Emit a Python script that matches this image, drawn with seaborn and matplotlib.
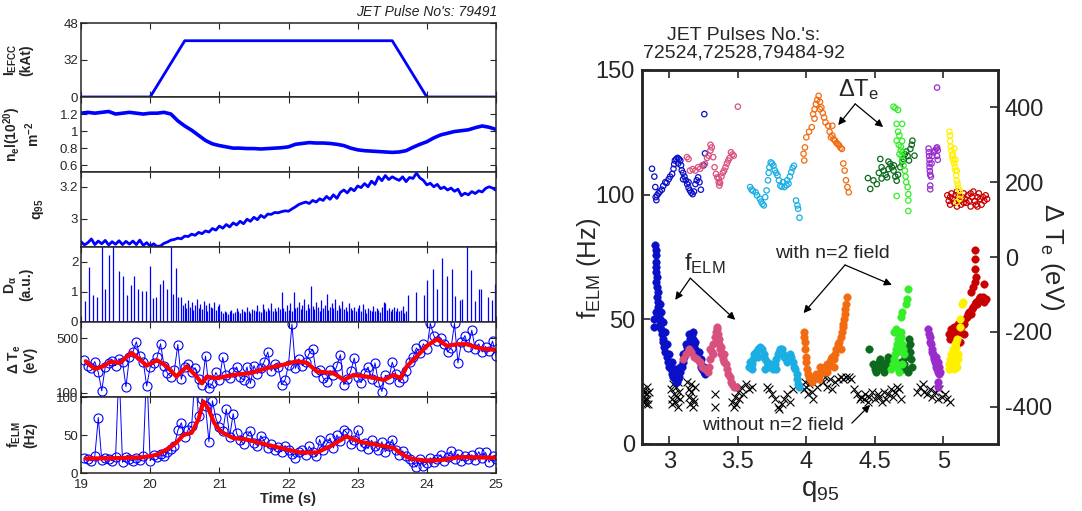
import matplotlib
matplotlib.use("Agg")
import matplotlib.pyplot as plt
import numpy as np
import seaborn as sns

W, H = 1082, 511

# ---------------- left column: JET pulse 79491 time traces ----------------
EFCC_T = [19.0, 20.0, 20.5, 23.5, 24.0, 25.0]
EFCC_KAT = [0.0, 0.0, 36.5, 36.5, 0.0, 0.0]

# line-integrated density, 0.1 s samples 19..25
NE = [1.21, 1.22, 1.21, 1.22, 1.23, 1.20, 1.21, 1.22, 1.21, 1.20,
      1.21, 1.21, 1.22, 1.20, 1.12, 1.06, 1.01, 0.95, 0.89, 0.85,
      0.83, 0.815, 0.80, 0.80, 0.795, 0.795, 0.79, 0.795, 0.80, 0.805,
      0.815, 0.845, 0.855, 0.865, 0.86, 0.86, 0.855, 0.845, 0.83, 0.80,
      0.78, 0.77, 0.765, 0.76, 0.755, 0.75, 0.755, 0.77, 0.81, 0.845,
      0.875, 0.92, 0.955, 0.975, 0.995, 1.005, 1.015, 1.04, 1.06, 1.045, 1.02]

# q95, 0.05 s samples 19..25
Q95 = [2.858, 2.838, 2.852, 2.875, 2.840, 2.862, 2.845, 2.866, 2.838, 2.858,
       2.842, 2.864, 2.840, 2.860, 2.843, 2.862, 2.840, 2.868, 2.835, 2.852,
       2.830, 2.845, 2.828, 2.832, 2.848, 2.856, 2.868, 2.872, 2.880, 2.876,
       2.893, 2.890, 2.905, 2.898, 2.916, 2.908, 2.925, 2.918, 2.940, 2.930,
       2.955, 2.942, 2.965, 2.950, 2.975, 2.962, 2.985, 2.970, 2.998, 2.985,
       3.010, 2.995, 3.022, 3.008, 3.030, 3.028, 3.040, 3.038, 3.045, 3.050,
       3.048, 3.062, 3.075, 3.090, 3.098, 3.105, 3.096, 3.115, 3.105, 3.125,
       3.115, 3.140, 3.122, 3.150, 3.128, 3.165, 3.180, 3.162, 3.190, 3.175,
       3.205, 3.195, 3.220, 3.200, 3.235, 3.215, 3.262, 3.238, 3.270, 3.245,
       3.262, 3.250, 3.240, 3.262, 3.232, 3.258, 3.252, 3.285, 3.255, 3.240,
       3.212, 3.222, 3.200, 3.215, 3.188, 3.198, 3.180, 3.192, 3.172, 3.185,
       3.145, 3.160, 3.150, 3.170, 3.158, 3.175, 3.168, 3.190, 3.200, 3.192, 3.178]

# D-alpha spikes (time, height)
DA_EARLY = [(19.063, 0.69), (19.111, 1.83), (19.178, 0.91), (19.227, 0.83), (19.304, 2.6),
            (19.352, 1.09), (19.405, 2.22), (19.458, 2.6), (19.55, 1.69), (19.613, 1.52),
            (19.666, 0.89), (19.719, 1.22), (19.772, 1.54), (19.83, 1.11), (19.888, 1.04),
            (19.941, 1.04), (20.003, 1.86), (20.042, 0.8), (20.09, 0.83), (20.138, 1.27),
            (20.19, 1.39), (20.24, 1.09), (20.298, 2.6), (20.327, 0.92), (20.37, 1.78),
            (20.4, 0.83), (20.447, 0.83)]
# dense small ELMs, 20.475 .. 23.70 s
DA_DENSE = [0.55, 0.62, 0.45, 0.72, 0.5, 0.65, 0.4, 0.58, 0.78, 0.48, 0.6, 0.42, 0.7, 0.55,
            0.35, 0.62, 0.5, 0.45, 0.68, 0.4, 0.52, 0.6,
            0.35, 0.3, 0.38, 0.32, 0.28, 0.35, 0.4, 0.3, 0.33, 0.45, 0.36, 0.3, 0.42, 0.38,
            0.32, 0.5, 0.35, 0.3, 0.44, 0.4, 0.36, 0.55, 0.38, 0.32, 0.6, 0.42, 0.35, 0.48,
            0.4, 0.62, 0.38, 0.45, 0.35, 0.5, 0.42, 1.0,
            0.45, 0.38, 0.55, 0.4, 0.62, 0.35, 0.98, 0.45, 0.5, 0.68, 0.42, 0.55, 0.75, 0.4,
            0.6, 0.48, 1.18, 0.52, 0.42, 0.65, 0.5, 0.38, 0.72, 0.45, 0.55, 0.92, 0.4, 0.5,
            0.62, 0.45, 0.78, 0.4, 0.55, 0.48, 0.7, 0.42, 0.5, 0.38, 0.62, 0.45,
            0.4, 0.5, 0.35, 0.45, 0.55, 0.38, 0.6, 0.42, 0.3, 0.48, 0.4, 0.35, 0.52, 0.38,
            0.45, 0.4, 0.32, 0.5, 0.65, 0.62, 0.4, 0.48, 0.36, 0.42, 0.5, 0.38, 0.45, 0.35,
            0.4, 0.52, 0.3, 0.38]
DA_LATE = [(23.723, 0.89), (23.848, 0.98), (23.954, 0.89), (24.007, 1.39), (24.085, 1.76),
           (24.147, 1.11), (24.22, 2.11), (24.292, 1.52), (24.364, 1.76), (24.413, 0.87),
           (24.475, 0.72), (24.514, 0.76), (24.577, 2.6), (24.634, 1.72), (24.702, 0.7),
           (24.76, 1.09), (24.789, 1.09), (24.88, 0.83), (24.938, 0.72), (24.986, 1.27)]

# pedestal Te drop, raw per-ELM values (0.05 s, 19.05..25)
DTE_RAW = [340, 300, 285, 330, 250, 115, 290, 320, 335, 300,
           350, 330, 145, 360, 400, 475, 370, 330, 150, 290,
           320, 360, 460, 300, 245, 220, 265, 455, 200, 290,
           310, 250, 285, 200, 160, 370, 135, 170, 250, 195,
           360, 230, 210, 250, 290, 215, 195, 290, 170, 300,
           240, 280, 330, 400, 260, 310, 290, 160, 195, 305,
           605, 280, 350, 300, 330, 390, 420, 250, 270, 210,
           180, 265, 230, 300, 380, 160, 200, 260, 355, 220,
           175, 245, 290, 200, 320, 180, 110, 230, 200, 325,
           240, 180, 210, 260, 330, 360, 430, 390, 460, 420,
           610, 520, 480, 500, 460, 400, 430, 610, 320, 470,
           520, 440, 560, 420, 460, 400, 440, 410, 480, 370]
DTE_SMOOTH = [(19.07, 332), (19.2, 275), (19.32, 295), (19.42, 327), (19.56, 320), (19.73, 395),
              (19.85, 345), (19.95, 300), (20.1, 340), (20.24, 295), (20.38, 220), (20.53, 295),
              (20.67, 220), (20.75, 170), (20.82, 220), (20.96, 207), (21.2, 232), (21.45, 245),
              (21.69, 282), (21.93, 307), (22.12, 332), (22.27, 320), (22.41, 257), (22.65, 245),
              (22.8, 195), (22.94, 232), (23.13, 220), (23.38, 195), (23.52, 232), (23.62, 207),
              (23.71, 295), (23.86, 370), (24.0, 445), (24.15, 495), (24.29, 445), (24.44, 457),
              (24.58, 457), (24.73, 432), (24.87, 420), (24.99, 415)]

# ELM frequency, raw (0.05 s, 19.05..25)
FELM_RAW = [20, 18, 16, 22, 73, 17, 20, 19, 16, 21,
            140, 14, 21, 18, 16, 20, 17, 22, 140, 16,
            24, 21, 25, 22, 28, 31, 36, 56, 66, 48,
            57, 62, 130, 75, 98, 88, 41, 95, 72, 60,
            55, 84, 48, 78, 52, 44, 38, 49, 55, 40,
            36, 49, 42, 33, 38, 30, 34, 28, 36, 30,
            25, 20, 27, 30, 24, 35, 28, 22, 44, 30,
            38, 46, 33, 50, 42, 57, 52, 38, 44, 56,
            35, 40, 32, 43, 36, 30, 41, 28, 35, 44,
            30, 24, 29, 22, 18, 14, 8, 18, 9, 13,
            20, 14, 19, 24, 16, 21, 29, 18, 25, 16,
            22, 19, 24, 17, 28, 20, 27, 14, 22, 19]
FELM_SMOOTH = [(19.07, 19), (19.5, 19.5), (19.9, 20.7), (20.1, 24), (20.24, 31), (20.38, 40),
               (20.48, 50), (20.6, 53), (20.7, 71), (20.77, 94), (20.84, 85), (20.92, 67),
               (21.01, 55), (21.2, 46), (21.4, 44), (21.69, 37), (21.98, 31), (22.17, 27),
               (22.41, 27), (22.6, 35), (22.84, 48), (23.04, 41), (23.28, 37), (23.52, 33),
               (23.62, 26), (23.76, 19), (24.0, 16), (24.2, 17), (24.48, 21), (25.0, 20)]

# ---------------- right panel: fELM and dTe vs q95 ----------------
# filled circles: f_ELM (Hz) with n=2 field, (q95, f)
F_BLUE = [(2.895, 80), (2.9, 78), (2.9, 76), (2.905, 73), (2.9, 71), (2.905, 69), (2.91, 67),
          (2.905, 65), (2.91, 63), (2.915, 61), (2.91, 59), (2.92, 57), (2.9, 53), (2.89, 50),
          (2.885, 47), (2.92, 55), (2.925, 52), (2.93, 50), (2.935, 48), (2.94, 46), (2.945, 44),
          (2.95, 42), (2.955, 41), (2.96, 39), (2.97, 37), (2.98, 35), (2.99, 33), (3.0, 31),
          (3.01, 30), (3.02, 28), (3.03, 27), (3.04, 26), (3.05, 25), (3.055, 25), (3.06, 26),
          (3.07, 27), (3.08, 29), (3.09, 31), (3.1, 33), (3.11, 35), (3.12, 37), (3.13, 39),
          (3.14, 40), (3.15, 42), (3.16, 43), (3.165, 44), (3.17, 42), (3.18, 40), (3.19, 38),
          (3.2, 36), (3.21, 35), (3.22, 33), (3.23, 31), (3.24, 30), (3.25, 29), (3.26, 28),
          (2.93, 56), (2.94, 53), (2.95, 49), (2.97, 45), (2.98, 40), (3.0, 36), (3.02, 33),
          (3.04, 30), (3.06, 29), (3.08, 31), (3.1, 36), (3.12, 40), (3.14, 44), (3.17, 45),
          (3.19, 41), (3.215, 37), (3.23, 34), (3.25, 31)]
F_PINK = [(3.10, 34), (3.12, 36), (3.14, 38), (3.16, 37), (3.18, 35), (3.2, 34), (3.22, 33),
          (3.24, 31), (3.26, 30), (3.28, 29), (3.29, 31), (3.3, 34), (3.31, 37), (3.32, 40),
          (3.33, 43), (3.34, 45), (3.345, 47), (3.35, 46), (3.355, 44), (3.36, 42), (3.365, 40),
          (3.37, 38), (3.38, 36), (3.39, 34), (3.4, 33), (3.41, 32), (3.42, 30), (3.43, 28),
          (3.44, 27), (3.45, 25), (3.46, 24), (3.475, 23), (3.49, 23), (3.3, 38), (3.32, 36),
          (3.35, 41), (3.38, 39), (3.4, 36)]
F_LBLUE = [(3.58, 31), (3.59, 33), (3.6, 32), (3.61, 34), (3.62, 36), (3.63, 37), (3.645, 38),
           (3.66, 39), (3.675, 38), (3.69, 36), (3.7, 34), (3.71, 33), (3.72, 32), (3.73, 31),
           (3.74, 32), (3.75, 31), (3.76, 30), (3.77, 32), (3.78, 34), (3.79, 36), (3.8, 37),
           (3.81, 38), (3.82, 38), (3.83, 36), (3.84, 35), (3.85, 34), (3.86, 33), (3.87, 34),
           (3.88, 36), (3.89, 35), (3.9, 33), (3.91, 31), (3.92, 30), (3.93, 28), (3.935, 26),
           (3.94, 24), (3.945, 23), (3.6, 30), (3.65, 35), (3.7, 30), (3.78, 30)]
F_ORANGE = [(3.985, 45), (3.985, 43), (3.99, 41), (3.99, 38), (3.995, 35), (4.0, 33), (4.005, 30),
            (4.01, 28), (4.02, 27), (4.03, 26), (4.04, 25), (4.05, 26), (4.06, 27), (4.07, 28),
            (4.08, 27), (4.09, 26), (4.1, 28), (4.11, 29), (4.12, 30), (4.13, 29), (4.14, 31),
            (4.15, 32), (4.16, 31), (4.17, 33), (4.18, 34), (4.19, 35), (4.2, 34), (4.21, 36),
            (4.22, 38), (4.23, 40), (4.24, 41), (4.25, 43), (4.26, 45), (4.265, 47), (4.27, 48),
            (4.275, 50), (4.28, 52), (4.285, 54), (4.29, 56), (4.3, 59), (4.1, 31), (4.15, 29),
            (4.2, 31), (4.25, 38)]
F_DGREEN = [(4.455, 38), (4.49, 32), (4.5, 30), (4.51, 29), (4.52, 31), (4.53, 33), (4.54, 34),
            (4.55, 32), (4.56, 30), (4.57, 29), (4.58, 31), (4.59, 33), (4.6, 35), (4.61, 34),
            (4.62, 32), (4.7, 30), (4.71, 32), (4.72, 35), (4.73, 37), (4.74, 39), (4.75, 42),
            (4.755, 40), (4.76, 37), (4.765, 34), (4.77, 31), (4.745, 29), (4.73, 30), (4.68, 31),
            (4.69, 33)]
F_GREEN = [(4.62, 30), (4.63, 32), (4.64, 34), (4.645, 36), (4.65, 33), (4.655, 38), (4.66, 40),
           (4.665, 37), (4.67, 42), (4.675, 39), (4.68, 44), (4.685, 41), (4.69, 43), (4.695, 45),
           (4.7, 40), (4.705, 38), (4.71, 36), (4.66, 31), (4.68, 29), (4.7, 32), (4.64, 45),
           (4.655, 46), (4.69, 51), (4.7, 53), (4.73, 56), (4.735, 58), (4.74, 62)]
F_PURPLE = [(4.89, 46), (4.895, 44), (4.9, 43), (4.905, 41), (4.91, 40), (4.915, 38), (4.92, 37),
            (4.925, 36), (4.93, 35), (4.935, 34), (4.94, 33), (4.945, 32), (4.95, 31), (4.955, 30),
            (4.96, 30), (4.965, 29), (4.97, 28), (4.97, 31), (4.975, 29), (4.96, 33), (4.95, 35),
            (4.965, 25), (4.96, 23)]
F_YELLOW = [(5.04, 32), (5.045, 30), (5.05, 34), (5.055, 36), (5.06, 31), (5.065, 33), (5.07, 35),
            (5.075, 38), (5.08, 37), (5.085, 40), (5.09, 41), (5.095, 39), (5.1, 42), (5.105, 36),
            (5.11, 34), (5.1, 31), (5.08, 30), (5.09, 33), (5.12, 47), (5.125, 50), (5.14, 56),
            (5.145, 57)]
F_RED = [(5.04, 44), (5.05, 42), (5.055, 46), (5.06, 45), (5.07, 43), (5.08, 47), (5.09, 44),
         (5.1, 46), (5.11, 48), (5.12, 45), (5.13, 47), (5.14, 49), (5.15, 48), (5.16, 50),
         (5.17, 51), (5.18, 52), (5.19, 53), (5.2, 52), (5.21, 54), (5.22, 55), (5.23, 56),
         (5.24, 57), (5.25, 56), (5.26, 58), (5.27, 59), (5.28, 58), (5.29, 59), (5.3, 57),
         (5.31, 58), (5.2, 61), (5.22, 63), (5.235, 65), (5.24, 67), (5.23, 70), (5.235, 74),
         (5.23, 78), (5.3, 64), (5.1, 40), (5.15, 44), (5.12, 41)]

# crosses: f_ELM without n=2 field
F_NOFIELD = [(2.805, 22), (2.81, 19), (2.815, 17), (2.82, 21), (2.82, 18), (2.83, 16), (2.83, 20),
             (2.835, 23), (2.84, 18), (2.845, 16), (2.85, 21), (2.805, 17),
             (3.01, 22), (3.02, 18), (3.02, 16), (3.03, 24), (3.035, 20), (3.04, 17), (3.05, 23),
             (3.055, 19), (3.06, 15), (3.065, 25), (3.07, 21), (3.075, 18),
             (3.13, 25), (3.14, 22), (3.145, 19), (3.15, 16), (3.155, 24), (3.16, 21), (3.17, 15),
             (3.175, 18), (3.18, 17), (3.19, 23), (3.335, 20), (3.335, 15),
             (3.46, 17), (3.47, 15), (3.48, 19), (3.49, 16), (3.5, 21), (3.51, 18), (3.52, 23),
             (3.54, 20), (3.56, 24), (3.58, 22), (3.6, 23),
             (3.71, 23), (3.73, 22), (3.75, 20), (3.77, 18), (3.79, 15), (3.8, 14), (3.82, 16),
             (3.84, 18), (3.86, 20), (3.88, 17), (3.9, 22),
             (3.98, 22), (3.99, 25), (4.0, 23), (4.01, 20), (4.02, 24), (4.04, 21), (4.05, 18),
             (4.07, 26), (4.08, 23), (4.1, 27), (4.12, 25), (4.14, 27), (4.15, 23), (4.17, 26),
             (4.19, 22), (4.21, 25), (4.23, 26), (4.25, 27), (4.27, 26), (4.29, 27),
             (4.31, 27), (4.33, 26), (4.35, 22), (4.37, 20), (4.39, 18), (4.4, 19), (4.42, 18),
             (4.43, 20), (4.45, 17), (4.46, 19), (4.48, 21), (4.5, 18), (4.52, 20), (4.53, 19),
             (4.55, 17), (4.57, 21), (4.58, 18), (4.6, 20), (4.62, 22), (4.63, 19), (4.65, 21),
             (4.66, 23), (4.68, 22), (4.69, 18),
             (4.81, 21), (4.83, 23), (4.85, 24), (4.86, 21), (4.88, 20), (4.9, 22), (4.92, 19),
             (4.94, 21), (4.96, 18), (4.97, 22), (4.99, 19), (5.01, 20), (5.03, 18), (5.05, 17)]

# open circles: pedestal dTe (eV), right axis
T_BLUE = [(2.873, 236), (2.89, 215), (2.897, 187), (2.9, 160), (2.905, 152), (2.91, 165), (2.92, 170),
          (2.93, 175), (2.945, 180), (2.955, 190), (2.97, 200), (2.98, 198), (2.995, 208),
          (3.005, 215), (3.02, 222), (3.03, 236), (3.035, 248), (3.04, 258), (3.05, 262),
          (3.06, 265), (3.07, 262), (3.08, 258), (3.085, 245), (3.09, 232), (3.1, 225), (3.11, 215),
          (3.12, 205), (3.13, 195), (3.14, 185), (3.15, 178), (3.16, 172), (3.17, 168), (3.18, 175),
          (3.19, 195), (3.2, 205), (3.21, 213), (3.22, 200), (3.25, 245), (3.26, 277), (3.255, 382),
          (3.23, 180), (3.065, 250), (3.1, 208), (3.14, 200)]
T_PINK = [(3.128, 267), (3.14, 262), (3.15, 231), (3.17, 235), (3.19, 231), (3.21, 240), (3.225, 236),
          (3.24, 245), (3.26, 249), (3.275, 265), (3.286, 271), (3.3, 285), (3.31, 293), (3.32, 267),
          (3.33, 240), (3.34, 222), (3.35, 213), (3.36, 200), (3.365, 191), (3.37, 198), (3.38, 215),
          (3.39, 225), (3.4, 231), (3.41, 240), (3.42, 250), (3.43, 258), (3.44, 265), (3.45, 280),
          (3.46, 274), (3.47, 271), (3.5, 402), (3.3, 300), (3.36, 210)]
T_LBLUE = [(3.59, 187), (3.6, 180), (3.61, 177), (3.63, 173), (3.64, 165), (3.66, 156), (3.67, 148),
           (3.68, 142), (3.69, 138), (3.7, 160), (3.71, 178), (3.72, 205), (3.725, 225), (3.73, 240),
           (3.74, 253), (3.75, 250), (3.76, 244), (3.77, 232), (3.78, 225), (3.79, 218), (3.8, 205),
           (3.81, 191), (3.82, 188), (3.84, 187), (3.855, 192), (3.87, 196), (3.88, 215), (3.89, 227),
           (3.9, 238), (3.91, 244), (3.925, 151), (3.935, 138), (3.94, 129), (3.95, 105), (3.83, 200),
           (3.86, 205)]
T_ORANGE = [(3.98, 276), (3.985, 258), (3.99, 293), (4.0, 320), (4.02, 335), (4.04, 347), (4.05, 382),
            (4.06, 395), (4.07, 409), (4.08, 420), (4.09, 431), (4.1, 415), (4.11, 400), (4.12, 385),
            (4.13, 373), (4.14, 360), (4.16, 351), (4.17, 335), (4.18, 320), (4.19, 325), (4.2, 315),
            (4.21, 311), (4.22, 305), (4.23, 302), (4.24, 298), (4.25, 292), (4.26, 289), (4.27, 250),
            (4.28, 231), (4.29, 205), (4.3, 187), (4.31, 173), (4.19, 351), (4.1, 395), (4.06, 370)]
T_DGREEN = [(4.45, 211), (4.467, 182), (4.49, 205), (4.515, 195), (4.53, 225), (4.54, 262), (4.55, 240),
            (4.565, 231), (4.58, 220), (4.59, 213), (4.6, 235), (4.613, 249), (4.625, 240), (4.637, 231),
            (4.65, 215), (4.66, 204), (4.67, 220), (4.686, 240), (4.7, 255), (4.71, 262), (4.72, 275),
            (4.73, 282), (4.74, 270), (4.75, 258), (4.76, 289), (4.77, 300), (4.775, 311), (4.79, 271),
            (4.6, 255), (4.64, 245), (4.55, 210)]
T_GREEN = [(4.637, 402), (4.65, 398), (4.67, 393), (4.66, 356), (4.7, 356), (4.67, 335), (4.68, 325),
           (4.66, 311), (4.675, 300), (4.69, 285), (4.68, 275), (4.695, 270), (4.7, 258), (4.71, 245),
           (4.72, 231), (4.725, 215), (4.73, 200), (4.74, 187), (4.745, 168), (4.745, 151),
           (4.745, 123), (4.66, 163), (4.69, 295), (4.7, 310), (4.705, 280)]
T_PURPLE = [(4.893, 290), (4.895, 280), (4.897, 270), (4.9, 260), (4.9, 250), (4.9, 240), (4.902, 230),
            (4.905, 220), (4.91, 215), (4.915, 250), (4.92, 270), (4.93, 280), (4.94, 285), (4.95, 290),
            (4.955, 293), (4.96, 285), (4.955, 270), (4.96, 260), (4.905, 191), (4.905, 181),
            (4.955, 453)]
T_YELLOW = [(5.045, 335), (5.05, 325), (5.05, 310), (5.055, 295), (5.06, 284), (5.065, 270), (5.07, 262),
            (5.075, 258), (5.08, 250), (5.085, 240), (5.09, 231), (5.095, 218), (5.1, 204), (5.105, 195),
            (5.11, 185), (5.12, 178), (5.125, 165), (5.12, 155), (5.1, 147), (5.07, 275), (5.09, 260),
            (5.08, 290), (5.1, 230)]
T_RED = [(5.03, 165), (5.04, 150), (5.05, 160), (5.06, 170), (5.07, 155), (5.08, 145), (5.09, 165),
         (5.1, 175), (5.11, 160), (5.12, 150), (5.13, 140), (5.14, 160), (5.15, 170), (5.16, 155),
         (5.17, 145), (5.18, 165), (5.19, 150), (5.2, 135), (5.21, 160), (5.22, 175), (5.23, 150),
         (5.24, 140), (5.25, 160), (5.26, 170), (5.27, 155), (5.28, 140), (5.29, 160), (5.3, 150),
         (5.31, 165), (5.32, 155), (5.05, 140), (5.1, 135), (5.15, 145), (5.2, 170), (5.25, 135)]

COLORS = {
    "blue": "#0a10c8", "pink": "#d8507e", "lblue": "#1aaee3", "orange": "#f26b10",
    "dgreen": "#0b6a1e", "green": "#33ee28", "purple": "#9a2ccc", "yellow": "#fff000",
    "red": "#c80000",
}
FELM_SETS = [("blue", F_BLUE), ("pink", F_PINK), ("lblue", F_LBLUE), ("orange", F_ORANGE),
             ("dgreen", F_DGREEN), ("green", F_GREEN), ("purple", F_PURPLE),
             ("red", F_RED), ("yellow", F_YELLOW)]
DTE_SETS = [("blue", T_BLUE), ("pink", T_PINK), ("lblue", T_LBLUE), ("orange", T_ORANGE),
            ("dgreen", T_DGREEN), ("green", T_GREEN), ("purple", T_PURPLE),
            ("red", T_RED), ("yellow", T_YELLOW)]


sns.set_style("ticks")
plt.rcParams["font.family"] = ["Liberation Sans", "DejaVu Sans"]
plt.rcParams.update({
    "mathtext.fontset": "custom",
    "mathtext.rm": "Liberation Sans",
    "mathtext.it": "Liberation Sans:italic",
    "mathtext.bf": "Liberation Sans:bold",
    "axes.unicode_minus": False,
})


def px_axes(fig, x0, y0, x1, y1):
    return fig.add_axes([x0 / W, 1 - y1 / H, (x1 - x0) / W, (y1 - y0) / H])


def unzip(pairs):
    a, b = zip(*pairs)
    return list(a), list(b)


fig = plt.figure(figsize=(W / 100, H / 100), dpi=100)

# ---------- left stack ----------
edges = [23, 97, 172, 247, 322, 397, 473]
axs = [px_axes(fig, 81, edges[i], 496, edges[i + 1]) for i in range(6)]
BLUE = "#0000ff"

sns.lineplot(x=EFCC_T, y=EFCC_KAT, ax=axs[0], color=BLUE, lw=2.0, estimator=None)
sns.lineplot(x=np.linspace(19, 25, len(NE)), y=NE, ax=axs[1], color=BLUE, lw=2.6, estimator=None)
sns.lineplot(x=np.linspace(19, 25, len(Q95)), y=Q95, ax=axs[2], color=BLUE, lw=2.0, estimator=None)

da_t = [t for t, _ in DA_EARLY] + list(np.linspace(20.475, 23.70, len(DA_DENSE))) + [t for t, _ in DA_LATE]
da_h = [h for _, h in DA_EARLY] + DA_DENSE + [h for _, h in DA_LATE]
axs[3].vlines(da_t, 0, da_h, color=BLUE, lw=0.9)

raw_t = np.linspace(19.05, 25.0, len(DTE_RAW))
for ax, raw, smooth in [(axs[4], DTE_RAW, DTE_SMOOTH), (axs[5], FELM_RAW, FELM_SMOOTH)]:
    sns.lineplot(x=raw_t, y=raw, ax=ax, color=BLUE, lw=0.7, marker="o", markersize=6.5,
                 markerfacecolor="none", markeredgecolor=BLUE, markeredgewidth=0.8, estimator=None)
    st, sv = unzip(smooth)
    sns.lineplot(x=st, y=sv, ax=ax, color="#ff0000", lw=3.0, estimator=None)

ylims = [(0, 48), (0.52, 1.40), (2.825, 3.292), (0, 2.49), (70, 620), (0, 100)]
yticks = [([0, 24, 48], ["0", "32", "48"]),
          ([0.6, 0.8, 1.0, 1.2], ["0.6", "0.8", "1", "1.2"]),
          ([3.0, 3.2], ["3", "3.2"]),
          ([0, 1, 2], ["0", "1", "2"]),
          ([100, 500], ["100", "500"]),
          ([0, 50, 100], ["0", "50", "100"])]
ylabels = [r"$\mathbf{I_{EFCC}}$" + "\n(kAt)",
           r"$\mathbf{n_e l(10^{20})}$" + "\n" + r"$\mathbf{m^{-2}}$",
           r"$\mathbf{q_{95}}$",
           r"$\mathbf{D_{\alpha}}$" + "\n(a.u.)",
           r"$\mathbf{\Delta\ T_e}$" + "\n(eV)",
           r"$\mathbf{f_{ELM}}$" + "\n(Hz)"]
label_x = [-0.115, -0.095, -0.085, -0.115, -0.105, -0.105]
for i, ax in enumerate(axs):
    ax.set_xlim(19, 25)
    ax.set_ylim(*ylims[i])
    ax.set_yticks(yticks[i][0])
    ax.set_yticklabels(yticks[i][1])
    ax.set_xticks([19, 20, 21, 22, 23, 24, 25])
    ax.tick_params(direction="in", top=True, right=True, length=4, width=0.8,
                   labelsize=9.5, pad=2)
    ax.tick_params(axis="x", pad=4)
    if i < 5:
        ax.set_xticklabels([])
    ax.set_xlabel("")
    ax.set_ylabel(ylabels[i], fontsize=10, fontweight="bold", linespacing=1.0)
    ax.yaxis.set_label_coords(label_x[i], 0.5)
    for sp in ax.spines.values():
        sp.set_linewidth(1.1)
axs[5].set_xlabel("Time (s)", fontsize=10.5, fontweight="bold", labelpad=1)
fig.text(497 / W, 1 - 12 / H, "JET Pulse No's: 79491", ha="right", va="center",
         fontsize=10, style="italic", color="#222222")

# ---------- right panel ----------
ax = px_axes(fig, 642, 70, 998, 444)
ax2 = ax.twinx()

xq, xf = unzip(F_NOFIELD)
sns.scatterplot(x=xq, y=xf, ax=ax, marker="x", color="black", s=32, linewidth=0.8)
for name, pts in FELM_SETS:
    q, f = unzip(pts)
    sns.scatterplot(x=q, y=f, ax=ax, color=COLORS[name], s=30, edgecolor=COLORS[name],
                    linewidth=0.3, zorder=3)
for name, pts in DTE_SETS:
    q, te = unzip(pts)
    sns.scatterplot(x=q, y=te, ax=ax2, color=COLORS[name], facecolors="none",
                    edgecolor=COLORS[name], s=15, linewidth=0.9)

ax.set_xlim(2.8, 5.4)
ax.set_ylim(0, 150)
ax.set_xticks([3, 3.5, 4, 4.5, 5])
ax.set_xticklabels(["3", "3.5", "4", "4.5", "5"])
ax.set_yticks([0, 50, 100, 150])
ax2.set_ylim(-500, 500)
ax2.set_yticks([-400, -200, 0, 200, 400])
ax.tick_params(direction="in", top=True, right=False, length=6, width=1.2, labelsize=17, pad=5)
ax2.tick_params(direction="in", length=6, width=1.2, labelsize=17, pad=5)
for a in (ax, ax2):
    for sp in a.spines.values():
        sp.set_linewidth(1.8)
ax.set_ylabel(r"f$_{\rm ELM}$ (Hz)", fontsize=18.5)
ax.yaxis.set_label_coords(-0.11, 0.47)
ax2.set_ylabel(r"$\Delta$ T$_{\rm e}$ (eV)", fontsize=18.5, rotation=270)
ax2.yaxis.set_label_coords(1.19, 0.5)
ax.set_xlabel(r"q$_{95}$", fontsize=20, labelpad=4)

fig.text(744 / W, 1 - 44 / H, "JET Pulses No.'s:\n72524,72528,79484-92", ha="center",
         va="center", fontsize=14, linespacing=1.05)

arrow = dict(arrowstyle="-|>", lw=0.9, color="black", mutation_scale=11, shrinkA=0, shrinkB=0)
ax.text(4.379, 142, r"$\Delta$T$_{\rm e}$", ha="center", va="center", fontsize=17)
for tgt in [(4.233, 127.9), (4.561, 127.1)]:
    ax.annotate("", xy=tgt, xytext=(4.357, 136.4), arrowprops=arrow)
ax.text(3.26, 67.5, r"f$_{\rm ELM}$", ha="center", va="bottom", fontsize=17)
for tgt in [(3.043, 57.8), (3.481, 49.8)]:
    ax.annotate("", xy=tgt, xytext=(3.153, 66.5), arrowprops=arrow)
ax.text(4.187, 76.6, "with n=2 field", ha="center", va="center", fontsize=14)
for tgt in [(3.98, 52.5), (4.625, 63.8)]:
    ax.annotate("", xy=tgt, xytext=(4.283, 71.8), arrowprops=arrow)
ax.text(3.758, 7.3, "without n=2 field", ha="center", va="center", fontsize=14)
ax.annotate("", xy=(4.466, 15.7), xytext=(4.333, 8.4), arrowprops=arrow)

fig.savefig("out.png", dpi=100)
